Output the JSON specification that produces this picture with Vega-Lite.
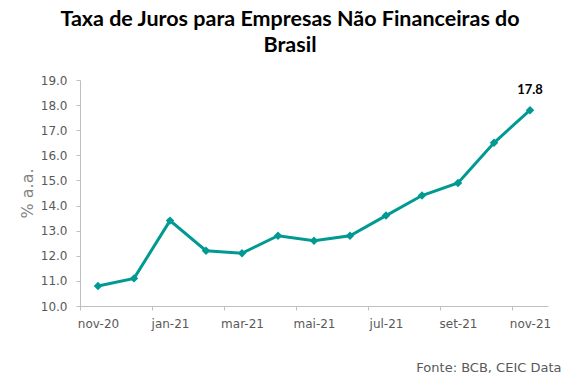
{
  "$schema": "https://vega.github.io/schema/vega-lite/v6.json",
  "width": 468,
  "height": 226,
  "autosize": "none",
  "padding": {"left": 80, "top": 80, "right": 32, "bottom": 85},
  "background": "white",
  "title": {
    "text": ["Taxa de Juros para Empresas Não Financeiras do", "Brasil"],
    "font": "Lato",
    "fontSize": 21.5,
    "fontWeight": "bold",
    "color": "black",
    "anchor": "middle",
    "dx": -24,
    "lineHeight": 26,
    "offset": 18
  },
  "data": {
    "values": [
      {"m": "nov-20", "v": 10.8},
      {"m": "dez-20", "v": 11.1},
      {"m": "jan-21", "v": 13.4},
      {"m": "fev-21", "v": 12.2},
      {"m": "mar-21", "v": 12.1},
      {"m": "abr-21", "v": 12.8},
      {"m": "mai-21", "v": 12.6},
      {"m": "jun-21", "v": 12.8},
      {"m": "jul-21", "v": 13.6},
      {"m": "ago-21", "v": 14.4},
      {"m": "set-21", "v": 14.9},
      {"m": "out-21", "v": 16.5},
      {"m": "nov-21", "v": 17.8}
    ]
  },
  "config": {"view": {"stroke": null}},
  "encoding": {
    "x": {
      "field": "m",
      "type": "ordinal",
      "sort": null,
      "scale": {"type": "point", "padding": 0.5},
      "axis": {
        "values": ["nov-20", "jan-21", "mar-21", "mai-21", "jul-21", "set-21", "nov-21"],
        "labelAngle": 0,
        "tickOffset": -18,
        "labelOffset": 18,
        "tickSize": 4,
        "labelPadding": 8,
        "labelFont": "DejaVu Sans",
        "labelFontSize": 12,
        "labelColor": "#595959",
        "domainColor": "#bfbfbf",
        "tickColor": "#bfbfbf",
        "grid": false,
        "title": "Fonte: BCB, CEIC Data",
        "titleFont": "DejaVu Sans",
        "titleFontSize": 13,
        "titleFontWeight": "normal",
        "titleColor": "#595959",
        "titleAnchor": "end",
        "titleAlign": "right",
        "titleBaseline": "alphabetic",
        "titleX": 481,
        "titleY": 65
      }
    },
    "y": {
      "field": "v",
      "type": "quantitative",
      "scale": {"domain": [10, 19], "nice": false, "zero": false},
      "axis": {
        "values": [10, 11, 12, 13, 14, 15, 16, 17, 18, 19],
        "format": ".1f",
        "grid": false,
        "tickSize": 4,
        "labelPadding": 9,
        "labelFont": "DejaVu Sans",
        "labelFontSize": 12,
        "labelColor": "#595959",
        "domainColor": "#bfbfbf",
        "tickColor": "#bfbfbf",
        "title": "% a.a.",
        "titleFont": "DejaVu Sans",
        "titleFontSize": 16,
        "titleFontWeight": "normal",
        "titleColor": "#7f7f7f",
        "titlePadding": 5
      }
    }
  },
  "layer": [
    {
      "mark": {
        "type": "line",
        "color": "#009a93",
        "strokeWidth": 3,
        "point": {"shape": "diamond", "size": 72, "filled": true, "color": "#009a93"}
      }
    },
    {
      "transform": [{"filter": "datum.m == 'nov-21'"}],
      "mark": {
        "type": "text",
        "dy": -20,
        "font": "Lato",
        "fontSize": 13,
        "fontWeight": "bold",
        "color": "black"
      },
      "encoding": {"text": {"field": "v", "type": "quantitative", "format": ".1f"}}
    }
  ]
}
